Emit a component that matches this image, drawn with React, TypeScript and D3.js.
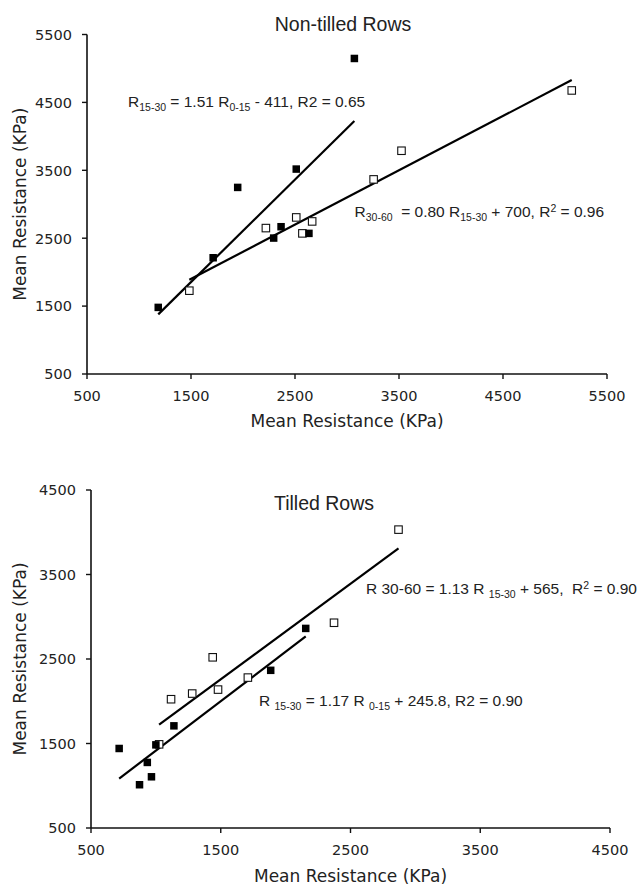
import React from "react";
import * as d3 from "d3";

// ---------- Data ----------
const topTicks = [500, 1500, 2500, 3500, 4500, 5500];
const bottomTicks = [500, 1500, 2500, 3500, 4500];

// Non-tilled rows
const ntFilledX = [1185, 1713, 1949, 2295, 2366, 2512, 2634, 3071];
const ntFilledY = [1481, 2212, 3248, 2502, 2669, 3518, 2571, 5147];
const ntOpenX = [1484, 2220, 2512, 2571, 2665, 3256, 3524, 5161];
const ntOpenY = [1727, 2649, 2806, 2571, 2747, 3366, 3788, 4676];
const ntFilledFit = [1.51, -411];
const ntOpenFit = [0.8, 700];

// Tilled rows
const tFilledX = [717, 874, 934, 966, 1000, 1139, 1885, 2155];
const tFilledY = [1441, 1012, 1276, 1106, 1484, 1709, 2366, 2862];
const tOpenX = [1025, 1117, 1280, 1438, 1479, 1709, 2373, 2870];
const tOpenY = [1490, 2024, 2091, 2520, 2138, 2280, 2929, 4031];
const tFilledFit = [1.17, 245.8];
const tOpenFit = [1.13, 565];

const titles = ["Non-tilled Rows", "Tilled Rows"];
const axisTitle = "Mean Resistance (KPa)";

const EQ_FONT = "'Liberation Sans', Arial, sans-serif";
const TICK_FONT = "'DejaVu Sans', Verdana, sans-serif";
const TEXT = "#222";

type Seg = { t: string; sub?: boolean; sup?: boolean };

function Eq({ x, y, segs }: { x: number; y: number; segs: Seg[] }) {
  let shift = 0;
  const out: React.ReactNode[] = [];
  segs.forEach((s, i) => {
    const target = s.sub ? 4 : s.sup ? -5.5 : 0;
    const dy = target - shift;
    shift = target;
    out.push(
      <tspan key={i} dy={dy} fontSize={s.sub || s.sup ? 10.5 : 15.5}>
        {s.t}
      </tspan>
    );
  });
  return (
    <text x={x} y={y} fontFamily={EQ_FONT} fill={TEXT} style={{ whiteSpace: "pre" }}>
      {out}
    </text>
  );
}

function Panel(props: {
  xRange: [number, number];
  yRange: [number, number];
  ticks: number[];
  filledX: number[];
  filledY: number[];
  openX: number[];
  openY: number[];
  filledFit: number[];
  openFit: number[];
  title: string;
  titleX: number;
  titleY: number;
  xTitleY: number;
}) {
  const { ticks } = props;
  const dom: [number, number] = [ticks[0], ticks[ticks.length - 1]];
  const x = d3.scaleLinear().domain(dom).range(props.xRange);
  const y = d3.scaleLinear().domain(dom).range(props.yRange);
  const x0 = props.xRange[0];
  const y0 = props.yRange[0];
  const line = d3
    .line<number>()
    .x((d) => x(d))
    .y((d) => d);
  const fitPath = (xs: number[], fit: number[]) => {
    const ext = d3.extent(xs) as [number, number];
    return d3
      .line<number>()
      .x((d) => x(d))
      .y((d) => y(fit[0] * d + fit[1]))(ext) as string;
  };
  const s = 7.5;
  void line;
  return (
    <g>
      <text
        x={props.titleX}
        y={props.titleY}
        textAnchor="middle"
        fontFamily={EQ_FONT}
        fontSize={19.5}
        fill={TEXT}
      >
        {props.title}
      </text>
      {/* axes */}
      <line x1={x0} x2={props.xRange[1]} y1={y0} y2={y0} stroke="#111" strokeWidth={1.6} />
      <line x1={x0} x2={x0} y1={y0} y2={props.yRange[1]} stroke="#111" strokeWidth={1.6} />
      {ticks.map((t) => (
        <g key={"x" + t}>
          <line x1={x(t)} x2={x(t)} y1={y0} y2={y0 + 5} stroke="#111" strokeWidth={1.4} />
          <text
            x={x(t)}
            y={y0 + 26.5}
            textAnchor="middle"
            fontFamily={TICK_FONT}
            fontSize={14.5}
            fill={TEXT}
          >
            {t}
          </text>
        </g>
      ))}
      {ticks.map((t) => (
        <g key={"y" + t}>
          <line x1={x0 - 5} x2={x0} y1={y(t)} y2={y(t)} stroke="#111" strokeWidth={1.4} />
          <text
            x={x0 - 15}
            y={y(t) + 5.3}
            textAnchor="end"
            fontFamily={TICK_FONT}
            fontSize={14.5}
            fill={TEXT}
          >
            {t}
          </text>
        </g>
      ))}
      <text
        x={(props.xRange[0] + props.xRange[1]) / 2}
        y={props.xTitleY}
        textAnchor="middle"
        fontFamily={TICK_FONT}
        fontSize={17}
        fill={TEXT}
      >
        {axisTitle}
      </text>
      <text
        transform={`translate(26,${(props.yRange[0] + props.yRange[1]) / 2}) rotate(-90)`}
        textAnchor="middle"
        fontFamily={TICK_FONT}
        fontSize={17}
        fill={TEXT}
      >
        {axisTitle}
      </text>
      {/* regression lines */}
      <path d={fitPath(props.filledX, props.filledFit)} stroke="#000" strokeWidth={2.2} fill="none" />
      <path d={fitPath(props.openX, props.openFit)} stroke="#000" strokeWidth={2.2} fill="none" />
      {/* points */}
      {props.openX.map((v, i) => (
        <rect
          key={"o" + i}
          x={x(v) - s / 2}
          y={y(props.openY[i]) - s / 2}
          width={s}
          height={s}
          fill="#fff"
          stroke="#111"
          strokeWidth={1.1}
        />
      ))}
      {props.filledX.map((v, i) => (
        <rect
          key={"f" + i}
          x={x(v) - s / 2}
          y={y(props.filledY[i]) - s / 2}
          width={s}
          height={s}
          fill="#000"
        />
      ))}
    </g>
  );
}

export default function App() {
  return (
    <svg
      width={640}
      height={888}
      style={{ position: "absolute", left: 0, top: 0, background: "#fff" }}
    >
      <Panel
        xRange={[87, 607]}
        yRange={[374, 34.5]}
        ticks={topTicks}
        filledX={ntFilledX}
        filledY={ntFilledY}
        openX={ntOpenX}
        openY={ntOpenY}
        filledFit={ntFilledFit}
        openFit={ntOpenFit}
        title={titles[0]}
        titleX={343}
        titleY={30.5}
        xTitleY={427}
      />
      <Panel
        xRange={[91, 610]}
        yRange={[828, 490]}
        ticks={bottomTicks}
        filledX={tFilledX}
        filledY={tFilledY}
        openX={tOpenX}
        openY={tOpenY}
        filledFit={tFilledFit}
        openFit={tOpenFit}
        title={titles[1]}
        titleX={324}
        titleY={510}
        xTitleY={882}
      />
      <Eq
        x={128}
        y={107}
        segs={[
          { t: "R" },
          { t: "15-30", sub: true },
          { t: " = 1.51 R" },
          { t: "0-15", sub: true },
          { t: " - 411, R2 = 0.65" },
        ]}
      />
      <Eq
        x={354.5}
        y={217}
        segs={[
          { t: "R" },
          { t: "30-60", sub: true },
          { t: "  = 0.80 R" },
          { t: "15-30", sub: true },
          { t: " + 700, R" },
          { t: "2", sup: true },
          { t: " = 0.96" },
        ]}
      />
      <Eq
        x={366}
        y={594}
        segs={[
          { t: "R 30-60 = 1.13 R " },
          { t: "15-30", sub: true },
          { t: " + 565,  R" },
          { t: "2", sup: true },
          { t: " = 0.90" },
        ]}
      />
      <Eq
        x={259}
        y={706}
        segs={[
          { t: "R " },
          { t: "15-30", sub: true },
          { t: " = 1.17 R " },
          { t: "0-15", sub: true },
          { t: " + 245.8, R2 = 0.90" },
        ]}
      />
    </svg>
  );
}
